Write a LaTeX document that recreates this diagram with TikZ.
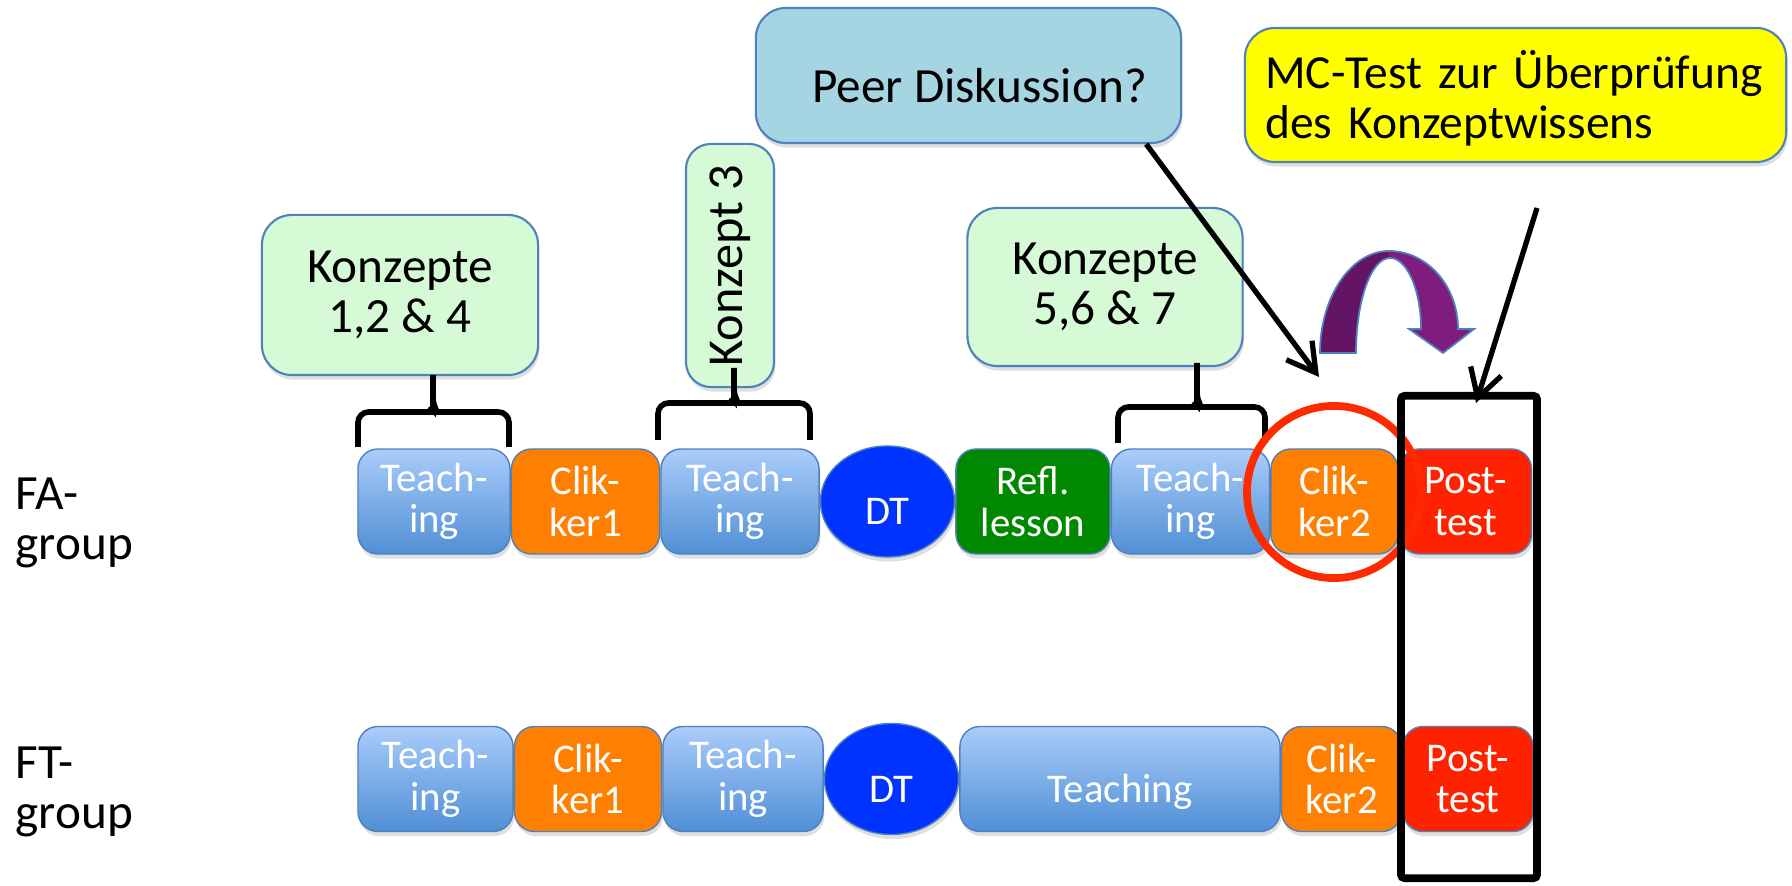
\documentclass[tikz,border=0pt]{standalone}
\usepackage{fontspec}
\setmainfont{Carlito}
\usetikzlibrary{positioning,shapes.geometric,shadows,arrows.meta}

\definecolor{teachtop}{RGB}{170,204,250}
\definecolor{teachbot}{RGB}{80,143,213}
\definecolor{randblau}{RGB}{79,129,189}
\definecolor{clikorange}{RGB}{255,127,0}
\definecolor{dtblau}{RGB}{0,51,255}
\definecolor{reflgruen}{RGB}{0,136,0}
\definecolor{postrot}{RGB}{255,34,0}
\definecolor{konzgruen}{RGB}{214,250,214}
\definecolor{peerblau}{RGB}{165,213,226}
\definecolor{mcgelb}{RGB}{255,255,0}
\definecolor{kreisrot}{RGB}{255,42,0}
\definecolor{lilatief}{RGB}{100,20,100}
\definecolor{lilahell}{RGB}{126,29,126}

\newcommand\grosstext{\fontsize{14}{14.3}\selectfont}
\newcommand\kleintext{\fontsize{11.6}{11.8}\selectfont}
\newcommand\bogenpfad{(1320,532) .. controls (1320,588) and (1351,634) .. (1389,634)
  .. controls (1427,634) and (1458,599) .. (1458,556) -- (1474,556) -- (1443,532)
  -- (1409,556) -- (1421,556) .. controls (1421,595) and (1407,627) .. (1390,627)
  .. controls (1371,627) and (1356,584) .. (1356,532) -- cycle}

\begin{document}
\begin{tikzpicture}[x=0.01cm, y=0.01cm, node distance=0pt,
  schatten/.style = {drop shadow={opacity=0.25, shadow xshift=0.4pt, shadow yshift=-1.3pt}},
  absenken/.style = {execute at begin node={\rule{0pt}{#1}}},
  baustein/.style = {rounded corners=0.2cm, draw=randblau, line width=0.4pt, minimum height=1.05cm,
    inner sep=0pt, text=white, align=center, font=\kleintext, absenken=1.3em, schatten},
  teach/.style = {baustein, top color=teachtop, bottom color=teachbot},
  clik/.style = {baustein, fill=clikorange},
  refl/.style = {baustein, fill=reflgruen},
  post/.style = {baustein, fill=postrot},
  dt/.style = {ellipse, draw=randblau, line width=0.4pt, fill=dtblau, text=white, inner sep=0pt,
    minimum width=1.34cm, minimum height=1.11cm, font=\kleintext, absenken=1.15em, schatten},
  konz/.style = {rounded corners=0.3cm, draw=randblau, line width=0.6pt, fill=konzgruen,
    align=center, font=\grosstext, inner sep=0pt, schatten},
  gruppe/.style = {anchor=west, align=left, font=\grosstext, inner sep=0pt},
  klammer/.style = {line width=1.6pt, rounded corners=3pt},
  zeiger/.style = {line width=1.5pt, -{Straight Barb[length=2.8mm, width=3.2mm]}}]
  \useasboundingbox (0,0) rectangle (1792,885);

  % FA-Gruppe
  \node[gruppe] (falabel) at (15,362) {FA-\\group};
  \node[teach, minimum width=1.52cm] (fa1) at (434,383.5) {Teach-\\ing};
  \node[clik, minimum width=1.48cm, right=of fa1] (fa2) {Clik-\\ker1};
  \node[teach, minimum width=1.58cm, right=of fa2] (fa3) {Teach-\\ing};
  \node[dt, right=of fa3] (fa4) {DT};
  \node[refl, minimum width=1.54cm, right=of fa4] (fa5) {Refl.\\lesson};
  \node[teach, minimum width=1.58cm, right=of fa5] (fa6) {Teach-\\ing};
  \node[clik, minimum width=1.27cm, right=of fa6] (fa7) {Clik-\\ker2};
  \node[post, minimum width=1.32cm, right=of fa7] (fa8) {Post-\\test};

  % FT-Gruppe
  \node[gruppe] (ftlabel) at (15,93) {FT-\\group};
  \node[teach, minimum width=1.55cm] (ft1) at (435.5,106) {Teach-\\ing};
  \node[clik, minimum width=1.47cm, right=of ft1] (ft2) {Clik-\\ker1};
  \node[teach, minimum width=1.60cm, right=of ft2] (ft3) {Teach-\\ing};
  \node[dt, right=of ft3] (ft4) {DT};
  \node[teach, minimum width=3.20cm, right=of ft4] (ft5) {Teaching};
  \node[clik, minimum width=1.20cm, right=of ft5] (ft6) {Clik-\\ker2};
  \node[post, minimum width=1.30cm, right=of ft6] (ft7) {Post-\\test};

  % Konzepte
  \node[konz, absenken=1.2em, minimum width=2.76cm, minimum height=1.60cm] (konz1) at (400,590) {Konzepte\\1,2 \& 4};
  \node[konz, rotate=90, font=\fontsize{14.3}{15}\selectfont, rounded corners=0.25cm, minimum width=2.43cm, minimum height=0.88cm] (konz3) at (730,619.5) {Konzept 3};
  \node[konz, absenken=1.2em, minimum width=2.75cm, minimum height=1.58cm] (konz2) at (1105,598) {Konzepte\\5,6 \& 7};
  \node[konz, absenken=1.1em, fill=peerblau, minimum width=4.25cm, minimum height=1.35cm] (peer) at (968.5,809.5) {\hspace*{0.22cm}Peer Diskussion?};
  \node[konz, absenken=0.95em, fill=mcgelb, font=\fontsize{13.5}{14.3}\selectfont, minimum height=1.34cm, text width=5.0cm, inner xsep=0.205cm, align=left] (mctest) at (1515.5,790) {MC-Test zur Überprüfung\\des Konzeptwissens};

  % Klammern
  \draw[klammer] (358,438) |- (420,473) to[out=0,in=-90] (433,486) -- (433,510);
  \draw[klammer] (509,438) |- (446,473) to[out=180,in=-90] (433,486);
  \draw[klammer] (658,445) |- (721,482) to[out=0,in=-90] (734,495) -- (734,517);
  \draw[klammer] (810,445) |- (747,482) to[out=180,in=-90] (734,495);
  \draw[klammer] (1118,442) |- (1184,478) to[out=0,in=-90] (1197,491) -- (1197,522);
  \draw[klammer] (1265,442) |- (1210,478) to[out=180,in=-90] (1197,491);

  % Bogenpfeil
  \fill[lilahell] \bogenpfad;
  \begin{scope}
    \clip (1300,520) rectangle (1388,640);
    \fill[lilatief] \bogenpfad;
  \end{scope}
  \draw[randblau, line width=0.5pt] \bogenpfad;

  % Markierungen
  \node[draw=kreisrot, line width=2.2pt, ellipse, minimum width=1.74cm, minimum height=1.72cm] (kreis) at (1334,393) {};
  \node[draw, line width=2.2pt, rounded corners=1pt, minimum width=1.36cm, minimum height=4.82cm] (rahmen) at (1469,248) {};

  % Pfeile
  \coordinate (ringziel) at (1319,508);
  \coordinate (mcfuss) at (1537,677);
  \coordinate (rahmenziel) at (1476,482);
  \draw[zeiger] ([xshift=-0.36cm]peer.south east) -- (ringziel);
  \draw[zeiger] (mcfuss) -- (rahmenziel);
\end{tikzpicture}
\end{document}
